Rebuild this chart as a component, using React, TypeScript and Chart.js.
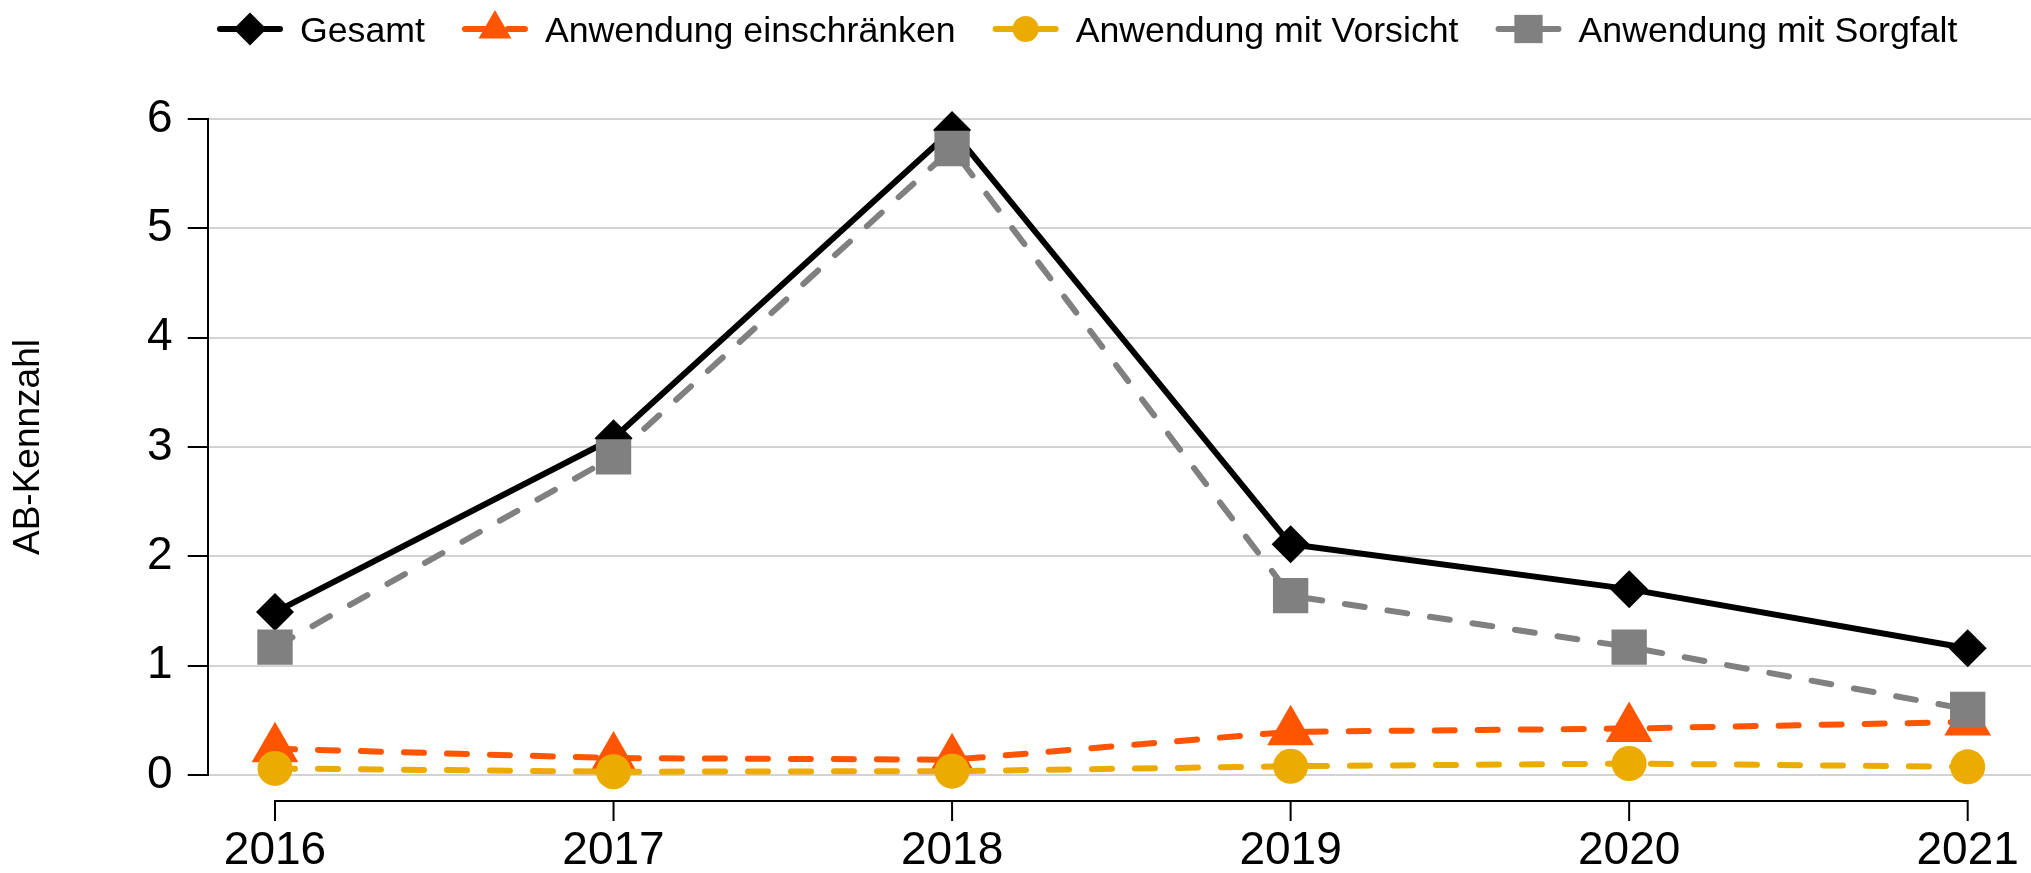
import React, { useEffect, useRef } from 'react';
import { Chart, registerables } from 'chart.js';
import { drawPoint } from 'chart.js/helpers';

Chart.register(...registerables);

// ---------- data ----------
const years = [2016, 2017, 2018, 2019, 2020, 2021];
const gesamt = [1.49, 3.08, 5.9, 2.11, 1.7, 1.16];
const einschraenken = [0.24, 0.155, 0.14, 0.395, 0.425, 0.485];
const vorsicht = [0.06, 0.03, 0.035, 0.08, 0.105, 0.075];
const sorgfalt = [1.17, 2.91, 5.73, 1.64, 1.17, 0.6];
const yTicks = [0, 1, 2, 3, 4, 5, 6];
const seriesLabels = ['Gesamt', 'Anwendung einschränken', 'Anwendung mit Vorsicht', 'Anwendung mit Sorgfalt'];
const yTitle = 'AB-Kennzahl';

// ---------- layout / style ----------
const FONT = '"Liberation Sans", Arial, Helvetica, sans-serif';
const W = 2031;
const H = 873;
const PLOT_LEFT = 207.7;
const PLOT_TOP = 119;
const PLOT_BOTTOM = 775;
const PX_FIRST = 275;
const PX_LAST = 1967.7;
const pxPerYear = (PX_LAST - PX_FIRST) / (years[years.length - 1] - years[0]);
const X_MIN = years[0] - (PX_FIRST - PLOT_LEFT) / pxPerYear;
const X_MAX = years[years.length - 1] + (W - PX_LAST) / pxPerYear;

const ORANGE = '#FF5500';
const YELLOW = '#EBAB00';
const GRAY = '#808080';
const DASH = [20, 23];
const LINE_W = 6;

const toPoints = (vals: number[]) => years.map((x, i) => ({ x, y: vals[i] }));

const rAxisPlugin = {
  id: 'rAxis',
  afterDraw(chart: any) {
    const { ctx, chartArea, scales } = chart;
    const x = scales.x;
    const y0 = chartArea.bottom + 26;
    ctx.save();
    ctx.strokeStyle = '#000';
    ctx.lineWidth = 2;
    ctx.lineCap = 'butt';
    ctx.beginPath();
    const x1 = x.getPixelForValue(years[0]);
    const x2 = x.getPixelForValue(years[years.length - 1]);
    ctx.moveTo(x1 - 1, y0);
    ctx.lineTo(x2 + 1, y0);
    years.forEach((v) => {
      const px = x.getPixelForValue(v);
      ctx.moveTo(px, y0);
      ctx.lineTo(px, y0 + 20);
    });
    ctx.stroke();
    ctx.restore();
  },
};

const rLegendPlugin = {
  id: 'rLegend',
  afterDraw(chart: any) {
    const { ctx } = chart;
    ctx.save();
    ctx.font = `35.7px ${FONT}`;
    ctx.textBaseline = 'alphabetic';
    ctx.textAlign = 'left';
    let cx = 250;
    const cy = 29;
    chart.data.datasets.forEach((ds: any) => {
      ctx.strokeStyle = ds.borderColor;
      ctx.lineWidth = ds.borderWidth;
      ctx.lineCap = 'round';
      ctx.setLineDash(ds.borderDash || []);
      ctx.beginPath();
      ctx.moveTo(cx - 30, cy);
      ctx.lineTo(cx + 30, cy);
      ctx.stroke();
      ctx.setLineDash([]);
      ctx.fillStyle = ds.backgroundColor;
      drawPoint(ctx, { pointStyle: ds.pointStyle, radius: ds.legendRadius, borderWidth: 0, rotation: 0 } as any, cx, cy);
      ctx.fillStyle = '#000';
      ctx.fillText(ds.label, cx + 50, cy + 13);
      cx += 50 + ctx.measureText(ds.label).width + 70;
    });
    ctx.restore();
  },
};

export default function App() {
  const ref = useRef<HTMLCanvasElement>(null);
  useEffect(() => {
    document.body.style.margin = '0';
    const common = { borderWidth: LINE_W, pointBorderWidth: 0, borderCapStyle: 'round', borderJoinStyle: 'round', tension: 0, clip: false };
    const chart = new Chart(ref.current as HTMLCanvasElement, {
      type: 'line',
      data: {
        datasets: [
          { ...common, label: seriesLabels[0], data: toPoints(gesamt), borderColor: '#000', backgroundColor: '#000', pointBackgroundColor: '#000', pointStyle: 'rectRot', pointRadius: 19, legendRadius: 16.5, order: 4 } as any,
          { ...common, label: seriesLabels[1], data: toPoints(einschraenken), borderColor: ORANGE, backgroundColor: ORANGE, pointBackgroundColor: ORANGE, borderDash: DASH, pointStyle: 'triangle', pointRadius: 27, legendRadius: 19, order: 3 } as any,
          { ...common, label: seriesLabels[2], data: toPoints(vorsicht), borderColor: YELLOW, backgroundColor: YELLOW, pointBackgroundColor: YELLOW, borderDash: DASH, pointStyle: 'circle', pointRadius: 17.5, legendRadius: 13, order: 2 } as any,
          { ...common, label: seriesLabels[3], data: toPoints(sorgfalt), borderColor: GRAY, backgroundColor: GRAY, pointBackgroundColor: GRAY, borderDash: DASH, pointStyle: 'rect', pointRadius: 25, legendRadius: 20, order: 1 } as any,
        ],
      },
      options: {
        responsive: false,
        animation: false,
        devicePixelRatio: 1,
        events: [],
        layout: { autoPadding: false, padding: { top: PLOT_TOP, left: 0, right: 0, bottom: 0 } },
        plugins: { legend: { display: false }, tooltip: { enabled: false } },
        scales: {
          x: {
            type: 'linear',
            position: 'bottom',
            min: X_MIN,
            max: X_MAX,
            afterBuildTicks: (s: any) => { s.ticks = years.map((v) => ({ value: v })); },
            afterFit: (s: any) => { s.height = H - PLOT_BOTTOM; s.paddingLeft = 0; s.paddingRight = 0; },
            grid: { display: false, drawTicks: true, tickLength: 43 },
            border: { display: false },
            ticks: { padding: 6, color: '#000', font: { size: 46, family: FONT }, maxRotation: 0, autoSkip: false, callback: (v: any) => String(v) },
          },
          y: {
            type: 'linear',
            min: 0,
            max: 6,
            afterBuildTicks: (s: any) => { s.ticks = yTicks.map((v) => ({ value: v })); },
            afterFit: (s: any) => { s.width = PLOT_LEFT; s.paddingTop = 0; s.paddingBottom = 0; },
            grid: { color: '#d3d3d3', lineWidth: 2, tickColor: '#000', tickWidth: 2, tickLength: 20, drawTicks: true },
            border: { display: true, color: '#000', width: 2 },
            ticks: { padding: 15, color: '#000', font: { size: 46, family: FONT }, callback: (v: any) => String(v) },
            title: { display: true, text: yTitle, color: '#000', font: { size: 37, family: FONT }, padding: { top: 7, bottom: 0 } },
          },
        },
      } as any,
      plugins: [rAxisPlugin, rLegendPlugin],
    });
    return () => chart.destroy();
  }, []);
  return (
    <div style={{ position: 'fixed', left: 0, top: 0, width: W, height: H, background: '#fff' }}>
      <canvas ref={ref} width={W} height={H} style={{ width: W, height: H, display: 'block' }} />
    </div>
  );
}
